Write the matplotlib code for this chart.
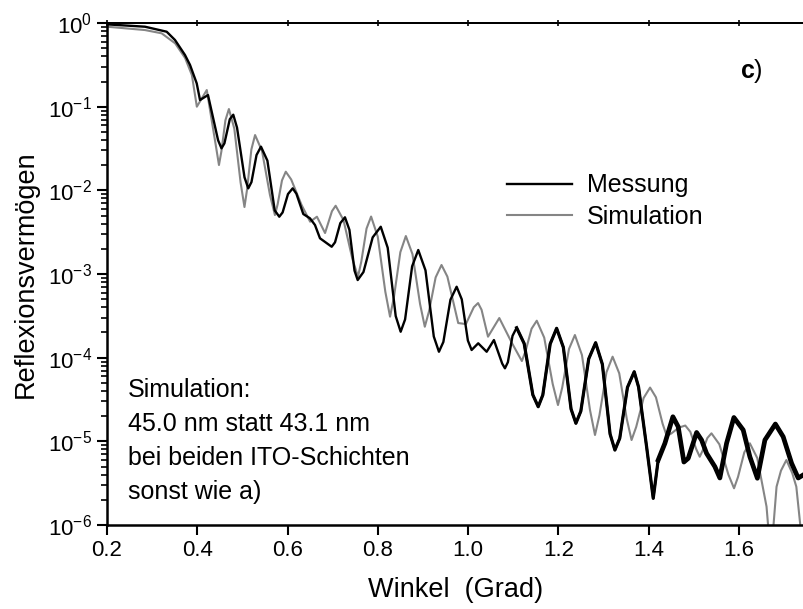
import numpy as np
import matplotlib.pyplot as plt
from matplotlib.ticker import LogLocator, NullFormatter, FormatStrFormatter, FixedLocator

plt.rcParams['font.family'] = ['Liberation Sans', 'DejaVu Sans']
plt.rcParams['mathtext.fontset'] = 'custom'
plt.rcParams['mathtext.rm'] = 'Liberation Sans'
plt.rcParams['mathtext.bf'] = 'Liberation Sans:bold'
plt.rcParams['mathtext.default'] = 'regular'
plt.rcParams['axes.unicode_minus'] = False

# Simulation curve (angle in degrees, log10 of reflectivity)
sim_winkel = [
    0.200, 0.284, 0.321, 0.351, 0.373, 0.388, 0.399, 0.421, 0.4413, 0.448,
    0.4535, 0.4623, 0.470, 0.482, 0.4959, 0.5045, 0.5104, 0.5198, 0.528, 0.5434,
    0.561, 0.572, 0.578, 0.5876, 0.596, 0.608, 0.631, 0.650, 0.665, 0.683,
    0.6983, 0.7065, 0.7238, 0.7436, 0.756, 0.7633, 0.7749, 0.785, 0.7997, 0.8165,
    0.827, 0.8358, 0.8498, 0.862, 0.8767, 0.8935, 0.904, 0.9133, 0.928, 0.941,
    0.954, 0.978, 0.995, 1.0125, 1.022, 1.0297, 1.044, 1.069, 1.097, 1.119,
    1.1273, 1.1405, 1.152, 1.1685, 1.1873, 1.199, 1.2084, 1.2234, 1.2365, 1.2521,
    1.2699, 1.281, 1.2908, 1.3064, 1.320, 1.3347, 1.3515, 1.362, 1.3723, 1.3887,
    1.403, 1.416, 1.4308, 1.440, 1.4503, 1.4667, 1.481, 1.4922, 1.505, 1.513,
    1.5195, 1.5299, 1.539, 1.5565, 1.5765, 1.589, 1.5978, 1.6118, 1.624, 1.6405,
    1.661, 1.6706, 1.6832, 1.693, 1.705, 1.718, 1.727, 1.7415,
]
sim_log = [
    -0.044, -0.084, -0.123, -0.243, -0.418, -0.622, -1.000, -0.801, -1.473, -1.697,
    -1.530, -1.162, -1.028, -1.262, -1.906, -2.199, -1.984, -1.511, -1.339, -1.530,
    -2.056, -2.295, -2.166, -1.881, -1.777, -1.870, -2.175, -2.375, -2.315, -2.510,
    -2.249, -2.184, -2.354, -2.820, -3.032, -2.852, -2.457, -2.313, -2.552, -3.211,
    -3.510, -3.269, -2.739, -2.546, -2.763, -3.359, -3.630, -3.446, -3.040, -2.892,
    -3.031, -3.586, -3.598, -3.397, -3.347, -3.427, -3.749, -3.526, -3.825, -4.040,
    -3.919, -3.654, -3.558, -3.760, -4.314, -4.566, -4.357, -3.896, -3.729, -3.968,
    -4.625, -4.924, -4.690, -4.175, -3.988, -4.187, -4.735, -4.984, -4.827, -4.482,
    -4.357, -4.473, -4.790, -4.936, -4.905, -4.836, -4.811, -4.886, -5.090, -5.184,
    -5.110, -4.960, -4.904, -5.035, -5.397, -5.561, -5.426, -5.131, -5.023, -5.200,
    -5.780, -6.400, -5.542, -5.350, -5.223, -5.380, -5.542, -6.300,
]

# Measurement curve
mess_winkel = [
    0.200, 0.284, 0.3322, 0.3506, 0.3727, 0.3838, 0.3987, 0.406, 0.4237, 0.4461,
    0.4536, 0.4601, 0.4720, 0.4797, 0.4880, 0.5046, 0.5129, 0.5200, 0.5312, 0.5411,
    0.5553, 0.5715, 0.5816, 0.5890, 0.6009, 0.6113, 0.6195, 0.6348, 0.6496, 0.6607,
    0.6718, 0.6977, 0.7051, 0.7168, 0.7271, 0.7370, 0.7483, 0.7553, 0.7681, 0.7885,
    0.8064, 0.8218, 0.8395, 0.8505, 0.8603, 0.8759, 0.8895, 0.9055, 0.9239, 0.9353,
    0.9451, 0.9608, 0.9745, 0.9859, 0.9994, 1.0077, 1.0223, 1.0410, 1.0571, 1.0754,
    1.0815, 1.0880, 1.0983, 1.1074, 1.1241, 1.1433, 1.1552, 1.1654, 1.1817, 1.1960,
    1.2109, 1.2280, 1.2387, 1.2496, 1.2671, 1.2824, 1.2973, 1.3144, 1.3251, 1.3358,
    1.3529, 1.3679, 1.3775, 1.3953, 1.4100, 1.4210, 1.4359, 1.4536, 1.4653, 1.4780,
    1.4875, 1.5061, 1.5171, 1.5281, 1.5466, 1.5576, 1.5725, 1.5887, 1.6093, 1.6241,
    1.6407, 1.6574, 1.6806, 1.6979, 1.7165, 1.7311, 1.7422,
]
mess_log = [
    -0.016, -0.044, -0.104, -0.203, -0.382, -0.500, -0.721, -0.920, -0.861, -1.402,
    -1.498, -1.438, -1.150, -1.096, -1.250, -1.844, -1.976, -1.901, -1.578, -1.478,
    -1.645, -2.239, -2.315, -2.264, -2.044, -1.976, -2.040, -2.283, -2.334, -2.414,
    -2.573, -2.674, -2.621, -2.392, -2.322, -2.472, -2.960, -3.072, -2.976, -2.562,
    -2.435, -2.686, -3.502, -3.690, -3.543, -2.908, -2.713, -2.956, -3.747, -3.929,
    -3.812, -3.307, -3.152, -3.303, -3.795, -3.908, -3.828, -3.929, -3.789, -4.070,
    -4.127, -4.054, -3.739, -3.642, -3.831, -4.444, -4.586, -4.446, -3.836, -3.649,
    -3.876, -4.614, -4.784, -4.640, -4.014, -3.821, -4.078, -4.912, -5.104, -4.964,
    -4.355, -4.168, -4.350, -5.064, -5.681, -5.223, -5.023, -4.706, -4.825, -5.247,
    -5.203, -4.894, -4.984, -5.143, -5.303, -5.438, -5.023, -4.715, -4.864, -5.184,
    -5.441, -4.984, -4.793, -4.945, -5.262, -5.438, -5.402,
]

x_ticks = [0.2, 0.4, 0.6, 0.8, 1.0, 1.2, 1.4, 1.6]
note_lines = ["Simulation:", "45.0 nm statt 43.1 nm", "bei beiden ITO-Schichten", "sonst wie a)"]

sim_x = np.array(sim_winkel)
sim_y = 10.0 ** np.array(sim_log)
mess_x = np.array(mess_winkel)
mess_y = 10.0 ** np.array(mess_log)

fig = plt.figure(figsize=(8.04, 6.09), dpi=100)
ax = fig.add_axes([0.1331, 0.1379, 0.8669, 0.8243])

ax.plot(sim_x, sim_y, color="#858585", linewidth=1.5, label="Simulation", zorder=2)
ax.plot(mess_x, mess_y, color="black", linewidth=1.7, label="Messung", zorder=3)

# noisier high-angle part of the measurement looks thicker
noisy = mess_x >= 1.10
ax.plot(mess_x[noisy], mess_y[noisy], color="black", linewidth=2.3, zorder=3)
very_noisy = mess_x >= 1.42
ax.plot(mess_x[very_noisy], mess_y[very_noisy], color="black", linewidth=3.4, zorder=3)

ax.set_yscale("log")
ax.set_xlim(0.2, 1.744)
ax.set_ylim(1e-6, 1.0)

ax.xaxis.set_major_locator(FixedLocator(x_ticks))
ax.xaxis.set_major_formatter(FormatStrFormatter("%.1f"))
ax.yaxis.set_major_locator(LogLocator(base=10, numticks=10))
ax.yaxis.set_minor_locator(LogLocator(base=10, subs=np.arange(2, 10), numticks=20))
ax.yaxis.set_minor_formatter(NullFormatter())

ax.tick_params(axis="both", which="major", direction="out", length=7, width=1.5,
               labelsize=16, pad=4)
ax.tick_params(axis="y", which="minor", direction="out", length=4.5, width=1.2)

ax.spines["right"].set_visible(False)
ax.spines["left"].set_linewidth(1.8)
ax.spines["bottom"].set_linewidth(1.8)
ax.spines["top"].set_linewidth(1.4)

sec = ax.secondary_xaxis("top")
sec.xaxis.set_major_locator(FixedLocator(x_ticks))
sec.tick_params(direction="inout", length=4, width=1.2, labeltop=False)
sec.spines["top"].set_linewidth(1.4)

ax.set_xlabel("Winkel  (Grad)", fontsize=19.5, labelpad=11)
ax.set_ylabel("Reflexionsvermögen", fontsize=19.5, labelpad=6)

handles, labels = ax.get_legend_handles_labels()
ax.legend([handles[1], handles[0]], [labels[1], labels[0]],
          loc="center left", bbox_to_anchor=(0.574, 0.645), frameon=False,
          fontsize=18, handlelength=2.6, handletextpad=0.6, labelspacing=0.3,
          borderpad=0, borderaxespad=0)

ax.text(0.908, 0.890, r"$\mathbf{c}$)", transform=ax.transAxes, fontsize=18,
        va="baseline", ha="left")

for i, line in enumerate(note_lines):
    ax.text(0.030, 0.255 - i * 0.0677, line, transform=ax.transAxes,
            fontsize=18, va="baseline", ha="left")

fig.savefig("out.png", dpi=100)
